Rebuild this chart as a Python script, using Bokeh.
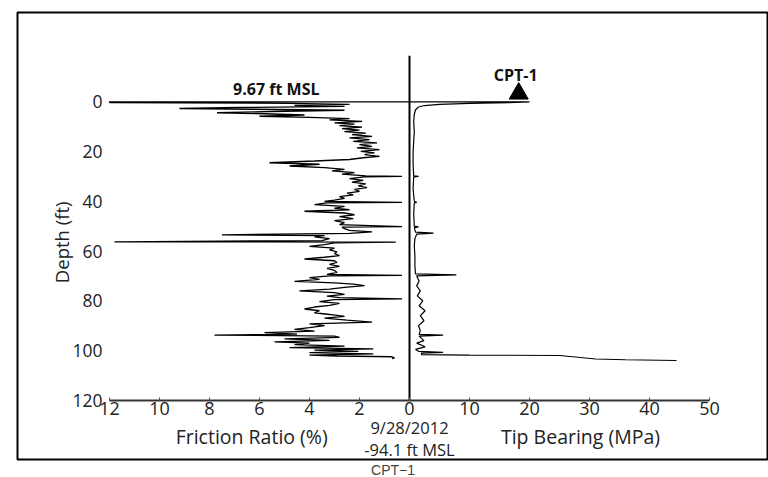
from math import pi
from bokeh.plotting import figure
from bokeh.models import Range1d, LinearAxis, FixedTicker
from bokeh.core.properties import value
from bokeh.embed import file_html
from bokeh.resources import INLINE

# ---------------- data ----------------
# Friction ratio (%) vs depth (ft)
fr_depth = [0.0, 0.0, 0.3, 0.6, 1.0, 1.4, 1.8, 2.3, 2.7, 3.0, 3.4, 3.8, 4.4, 4.8, 5.3, 5.8,
            6.3, 6.8, 7.3, 7.9, 8.5, 9.0, 9.6, 10.2, 10.8, 11.4, 12.0, 12.6, 13.2, 13.9,
            14.5, 15.2, 15.9, 16.5, 17.2, 17.9, 18.5, 19.2, 19.9, 20.5, 21.2, 21.9, 22.5,
            23.2, 23.8, 24.5, 25.1, 25.8, 26.5, 27.2, 27.8, 28.5, 29.1, 29.8, 30.0, 30.2,
            30.9, 31.6, 32.3, 33.0, 33.8, 34.5, 35.2, 36.0, 36.7, 37.4, 38.1, 38.8, 39.5,
            40.0, 40.4, 40.6, 41.3, 42.0, 42.8, 43.4, 44.0, 44.7, 45.4, 46.2, 47.0, 47.8,
            48.6, 49.4, 50.2, 50.4, 51.0, 51.7, 52.3, 52.9, 53.5, 53.8, 54.3, 55.0, 55.8,
            56.3, 56.4, 56.7, 57.4, 58.1, 58.8, 59.5, 60.3, 61.0, 61.8, 62.5, 63.2, 63.9,
            64.6, 65.4, 66.2, 67.0, 67.8, 68.6, 69.4, 69.8, 70.0, 70.7, 71.4, 72.2, 72.8,
            73.3, 73.9, 74.6, 75.3, 76.0, 76.7, 77.4, 78.1, 78.7, 79.2, 79.5, 80.3, 81.0,
            81.8, 82.5, 83.3, 84.0, 84.8, 85.5, 86.3, 87.0, 87.8, 88.6, 89.3, 90.0, 90.8,
            91.5, 92.2, 92.8, 93.4, 93.8, 94.2, 94.7, 95.3, 95.9, 96.5, 97.0, 97.6, 98.2,
            98.8, 99.3, 99.8, 100.3, 100.8, 101.3, 101.8, 102.2, 102.5, 102.9, 103.2]
fr_value = [0.0, 12.0, 12.0, 4.8, 2.4, 4.6, 2.6, 6.8, 9.2, 6.2, 2.6, 5.0, 7.7, 5.8, 4.2, 6.0,
            4.0, 2.4, 3.2, 1.9, 3.0, 2.2, 2.8, 1.9, 2.7, 2.0, 2.6, 1.75, 2.3, 1.5,
            2.4, 1.6, 2.25, 1.3, 2.0, 1.5, 2.1, 1.2, 1.95, 1.4, 1.8, 1.2, 1.85,
            2.4, 3.8, 5.6, 3.6, 4.8, 3.4, 2.6, 3.1, 2.2, 2.7, 1.75, 0.3, 1.8,
            2.4, 1.85, 2.3, 1.75, 2.05, 1.7, 2.2, 2.0, 2.5, 2.25, 2.8, 2.6, 3.0,
            3.4, 0.3, 3.3, 3.8, 2.6, 3.0, 2.4, 4.2, 2.6, 2.2, 2.8, 2.25, 3.0,
            2.6, 2.8, 0.3, 2.7, 2.6, 2.4, 1.5, 2.4, 7.5, 3.4, 3.8, 3.2, 3.5,
            11.8, 0.55, 3.0, 3.4, 4.0, 3.0, 3.2, 2.9, 3.0, 2.8, 3.4, 4.2, 3.0,
            2.9, 3.2, 2.8, 3.3, 3.0, 2.9, 3.3, 0.3, 3.2, 4.0, 3.6, 4.6, 3.0,
            2.25, 1.8, 2.6, 3.2, 4.4, 3.0, 2.6, 3.3, 2.8, 0.3, 3.0, 3.6, 2.8,
            3.2, 3.8, 4.2, 3.6, 3.8, 3.2, 2.6, 3.4, 2.5, 1.5, 4.0, 3.4, 4.0,
            4.6, 3.8, 5.8, 4.5, 7.8, 3.0, 2.8, 5.0, 3.2, 5.4, 4.0, 4.6, 2.6,
            4.8, 1.45, 3.8, 2.05, 4.0, 1.45, 4.0, 2.9, 0.7, 0.6, 0.7]

# Tip bearing (MPa) vs depth (ft)
tb_depth = [0.0, 0.0, 0.3, 0.6, 1.0, 1.5, 2.2, 3.3, 5.0, 8.0, 12.0, 16.0, 20.0, 25.0, 29.8,
            30.0, 30.2, 35.0, 40.0, 40.4, 40.6, 45.0, 50.0, 50.3, 50.6, 52.4, 52.8, 53.2,
            55.0, 58.0, 62.0, 66.0, 69.2, 69.6, 70.0, 72.0, 74.0, 76.0, 78.0, 80.0, 82.0,
            84.0, 86.0, 88.0, 90.0, 92.0, 93.5, 93.8, 94.2, 96.0, 97.0, 98.5, 99.5, 100.3,
            100.7, 101.0, 101.6, 101.8, 102.0, 102.8, 103.4, 103.7, 104.0]
tb_value = [0.0, 20.0, 16.5, 10.0, 5.0, 2.5, 1.4, 1.0, 0.8, 0.7, 0.8, 0.7, 0.6, 0.6, 0.7,
            1.5, 0.7, 0.6, 0.8, 1.2, 0.8, 0.7, 0.8, 1.5, 0.8, 1.0, 4.0, 1.2,
            0.9, 0.8, 0.9, 0.9, 1.0, 7.8, 1.2, 1.6, 1.2, 1.8, 1.3, 2.2, 1.6,
            2.6, 1.8, 2.4, 1.5, 1.8, 1.6, 5.6, 1.6, 2.4, 1.2, 2.6, 1.0, 1.5,
            5.6, 2.0, 2.0, 10.0, 25.0, 28.5, 31.0, 36.0, 44.5]

depth_ticks = [0, 20, 40, 60, 80, 100, 120]
fr_ticks = [2, 4, 6, 8, 10, 12]
tb_ticks = [0, 10, 20, 30, 40, 50]
fr_max = 12
tb_max = 50
depth_max = 120
site_tb = [18.2]
site_depth = [-3.3]
zero_line_depth = [-18.5, 120]
zero_line_x = [0, 0]

TICK_FONT = "Open Sans"

# FR scale mapped onto TB scale: fr_max <-> -tb_max
k = fr_max / tb_max
x_lo, x_hi = -65.33, 59.83

p = figure(width=768, height=477, output_backend="svg", toolbar_location=None,
           x_range=Range1d(x_lo, x_hi), y_range=Range1d(143.8, -35.9),
           x_axis_location=None, y_axis_location=None,
           min_border_left=17, min_border_right=0, min_border_top=12, min_border_bottom=0,
           title="CPT\u22121", title_location="below",
           background_fill_color="white", border_fill_color="white")
p.extra_x_ranges = {"fr": Range1d(-x_lo * k, -x_hi * k)}
p.xgrid.grid_line_color = None
p.ygrid.grid_line_color = None
p.outline_line_color = "black"
p.outline_line_width = 2
p.outline_line_alpha = 1

p.title.align = "center"
p.title.text_font = "Liberation Sans"
p.title.text_font_style = "normal"
p.title.text_font_size = "14px"
p.title.text_line_height = 1.0
p.title.standoff = 0
p.title.offset = 0


def style_x(ax):
    ax.axis_line_color = "#333333"
    ax.axis_line_width = 2
    ax.major_tick_in = 3
    ax.major_tick_out = 0
    ax.major_tick_line_color = "#555555"
    ax.minor_tick_line_color = None
    ax.major_label_standoff = 2
    ax.major_label_text_font = TICK_FONT
    ax.major_label_text_font_size = "18px"
    ax.major_label_text_color = "#222222"


ax_fr = LinearAxis(x_range_name="fr", fixed_location=depth_max, bounds=(0, fr_max),
                   ticker=FixedTicker(ticks=fr_ticks))
style_x(ax_fr)
p.add_layout(ax_fr, "below")

ax_tb = LinearAxis(fixed_location=depth_max, bounds=(0, tb_max),
                   ticker=FixedTicker(ticks=tb_ticks))
style_x(ax_tb)
p.add_layout(ax_tb, "below")

ay = LinearAxis(fixed_location=-tb_max, ticker=FixedTicker(ticks=depth_ticks))
ay.axis_line_color = None
ay.major_tick_line_color = None
ay.minor_tick_line_color = None
ay.major_tick_in = 0
ay.major_tick_out = 0
ay.major_label_standoff = 7
ay.major_label_text_font = TICK_FONT
ay.major_label_text_font_size = "17.5px"
ay.major_label_text_color = "#222222"
p.add_layout(ay, "left")

# traces
p.line(x=fr_value, y=fr_depth, x_range_name="fr", line_color="black", line_width=1.3)
p.line(x=tb_value, y=tb_depth, line_color="black", line_width=1.2)
p.line(x=zero_line_x, y=zero_line_depth, line_color="black", line_width=2)
p.scatter(x=site_tb, y=site_depth, marker="triangle", size=19, color="black")

# annotations
p.text(x=[-22.2], y=[-5.1], text=["9.67 ft MSL"], text_font=value("Open Sans"),
       text_font_style="bold", text_font_size="16px", text_align="center",
       text_baseline="middle", text_color="#111111")
p.text(x=[17.7], y=[-10.8], text=["CPT-1"], text_font=value("Open Sans"),
       text_font_style="bold", text_font_size="16px", text_align="center",
       text_baseline="middle", text_color="#111111")
p.text(x=[0, 0], y=[131, 139.8], text=["9/28/2012", "-94.1 ft MSL"],
       text_font=value(TICK_FONT), text_font_size="16.5px", text_align="center",
       text_baseline="middle", text_color="#222222")
p.text(x=[-26.3, 28.5], y=[134.6, 134.6], text=["Friction Ratio (%)", "Tip Bearing (MPa)"],
       text_font=value(TICK_FONT), text_font_size="19.5px", text_align="center",
       text_baseline="middle", text_color="#222222")
p.text(x=[-58], y=[56.5], text=["Depth (ft)"], angle=pi / 2,
       text_font=value(TICK_FONT), text_font_size="18.5px", text_align="center",
       text_baseline="middle", text_color="#222222")

open("out.html", "w").write(file_html(p, INLINE))
